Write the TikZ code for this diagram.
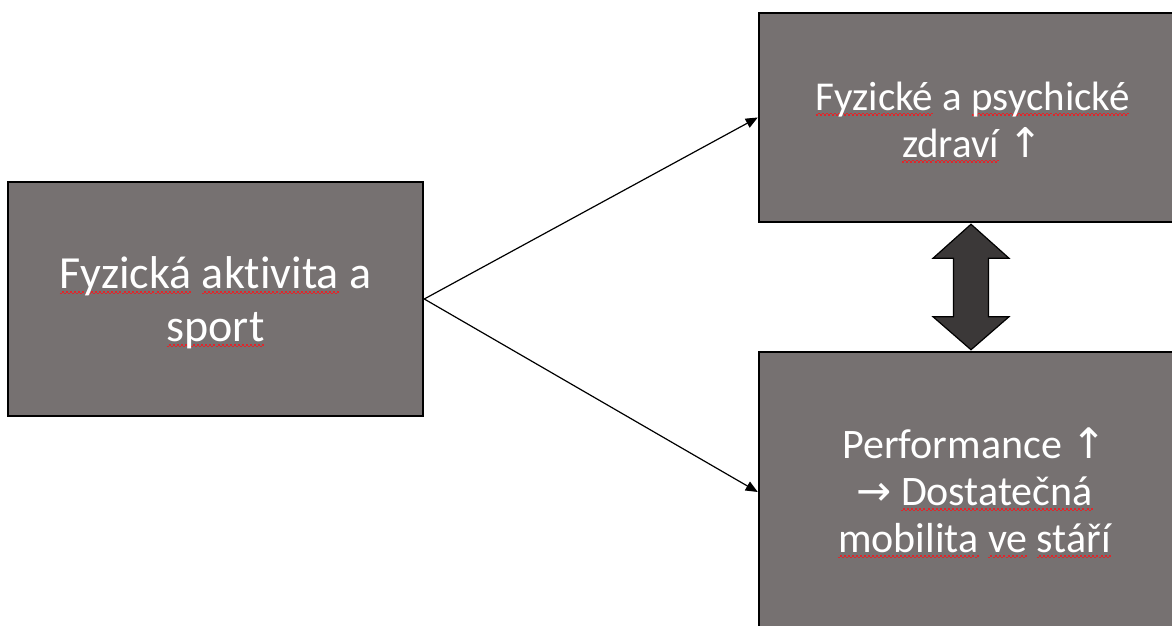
\documentclass[tikz,border=0pt]{standalone}
\usepackage{fontspec}
\setmainfont{Carlito}[Ligatures=NoCommon]
\newfontfamily\symfont{DejaVu Sans}
\usetikzlibrary{arrows.meta,calc}
\definecolor{boxgray}{HTML}{767171}
\definecolor{arrowdark}{HTML}{3B3838}
\definecolor{squigred}{HTML}{E0262B}
\newcommand\sq[1]{\setbox0\hbox{#1}\rlap{\color{squigred}\xleaders\hbox{\rule[-5.4pt]{2pt}{1.5pt}\rule[-3.9pt]{2pt}{1.5pt}}\hskip\wd0\relax}\box0\relax}
\newcommand\upar{{\symfont\char"2191}}
\newcommand\rar{{\symfont\char"2192}}
\begin{document}
\begin{tikzpicture}[x=1pt,y=1pt,
  box/.style={draw=black,line width=2.5pt,fill=boxgray,inner sep=0pt},
  txt/.style={text=white,align=center,inner sep=0pt},
  link/.style={line width=1.2pt,-{Triangle[length=12pt,width=10pt]}}]
\useasboundingbox (0,0) rectangle (1172,626);
\clip (0,0) rectangle (1172,626);
\node[box,minimum width=415pt,minimum height=234pt] (src) at (215.5,327) {};
\node[box,minimum width=431pt,minimum height=209pt] (tr) at (974.5,508.5) {};
\node[box,minimum width=431pt,minimum height=280pt] (br) at (974.5,134) {};
\node[txt,font=\fontsize{46}{53}\selectfont] (src-t) at ([yshift=-4pt]src.center) {\sq{Fyzická} \sq{aktivita} a\\\sq{sport}};
\node[txt,font=\fontsize{41}{47}\selectfont] (tr-t) at ([xshift=-2pt,yshift=-5pt]tr.center) {\sq{Fyzické} a \sq{psychické}\\\sq{zdraví} \upar};
\node[txt,font=\fontsize{42}{47}\selectfont] (br-t) at ([yshift=-1pt]br.center) {Performance \upar\\\rar{} \sq{Dostatečná}\\\sq{mobilita} \sq{ve} \sq{stáří}};
\draw[link] (src.east) -- (tr.west);
\draw[link] (src.east) -- (br.west);
\path (tr.south) ++(-3.5,-1) coordinate (dt);
\path (br.north) ++(-3.5,1) coordinate (db);
\draw[fill=arrowdark,line width=1.2pt,line join=miter]
  (dt) -- ++(38,-34) -- ++(-20.5,0) -- ($(db)+(17.5,33)$) -- ++(20.5,0) -- (db)
  -- ++(-38,33) -- ++(20.5,0) -- ($(dt)+(-17.5,-34)$) -- ++(-20.5,0) -- cycle;
\end{tikzpicture}
\end{document}
